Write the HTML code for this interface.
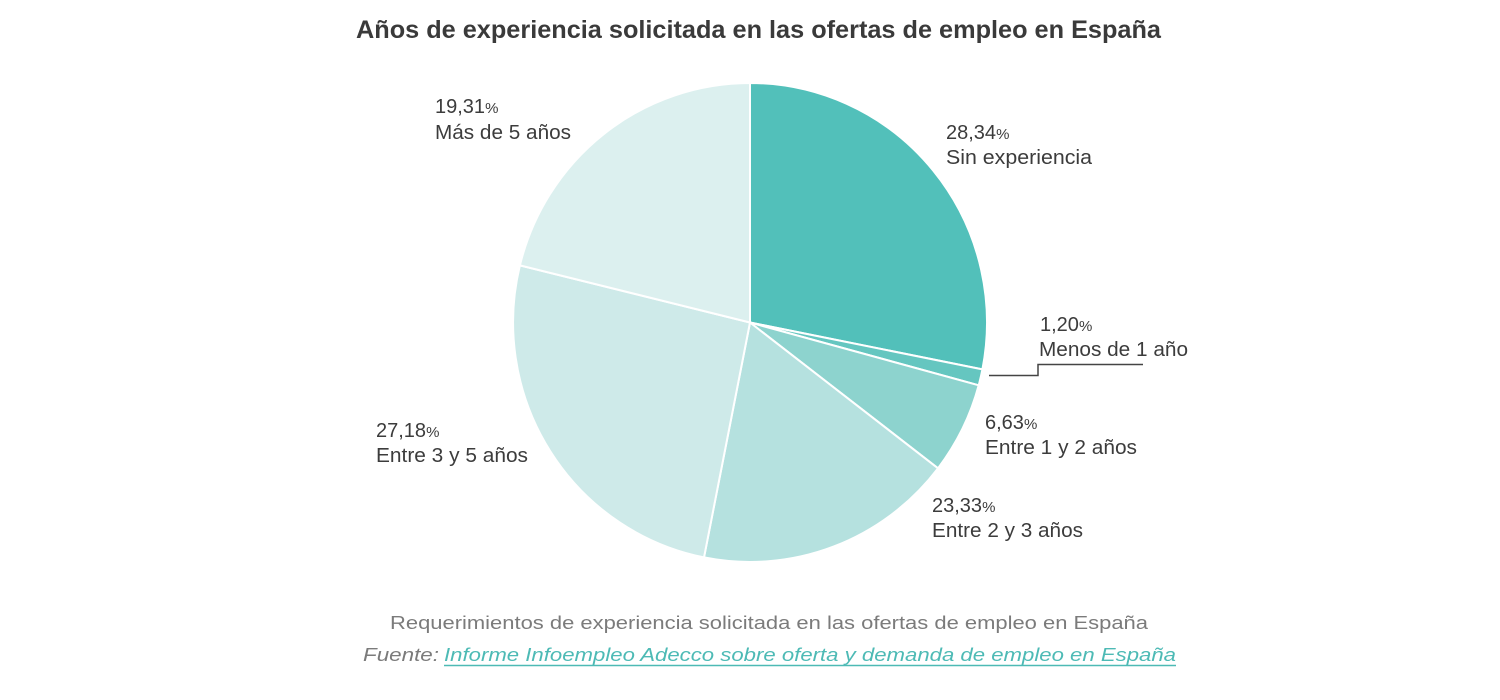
<!DOCTYPE html>
<html>
<head>
<meta charset="utf-8">
<style>
  html,body{margin:0;padding:0;background:#fff;}
  body{width:1500px;height:700px;overflow:hidden;}
  svg{display:block;}
  .lbl{font-family:"Liberation Sans",sans-serif;font-size:20px;fill:#3c3c3c;}
  .pct{font-size:15px;}
</style>
</head>
<body>
<svg width="1500" height="700" viewBox="0 0 1500 700" xmlns="http://www.w3.org/2000/svg">
  <rect width="1500" height="700" fill="#fff"/>
  <text x="356" y="38" font-family="Liberation Sans, sans-serif" font-size="25" font-weight="bold" fill="#3a3a3a" textLength="805" lengthAdjust="spacingAndGlyphs">Años de experiencia solicitada en las ofertas de empleo en España</text>

  <g stroke="#fff" stroke-width="2" stroke-linejoin="round">
    <path d="M750,322.5 L750,83 A237,239.5 0 0 1 982.4,369.4 Z" fill="#52C0BA"/>
    <path d="M750,322.5 L982.4,369.4 A237,239.5 0 0 1 978.7,385.3 Z" fill="#65C6C0"/>
    <path d="M750,322.5 L978.7,385.3 A237,239.5 0 0 1 938,468.3 Z" fill="#8DD3CE"/>
    <path d="M750,322.5 L938,468.3 A237,239.5 0 0 1 704,557.4 Z" fill="#B5E1DF"/>
    <path d="M750,322.5 L704,557.4 A237,239.5 0 0 1 519.9,265.4 Z" fill="#CEEAE9"/>
    <path d="M750,322.5 L519.9,265.4 A237,239.5 0 0 1 750,83 Z" fill="#DCF0EF"/>
  </g>

  <polyline points="989,375.5 1038,375.5 1038,364.5 1143,364.5" fill="none" stroke="#444" stroke-width="1.5"/>

  <text class="lbl" x="435" y="113">19,31<tspan class="pct">%</tspan></text>
  <text class="lbl" x="435" y="139" textLength="136" lengthAdjust="spacingAndGlyphs">Más de 5 años</text>

  <text class="lbl" x="946" y="139">28,34<tspan class="pct">%</tspan></text>
  <text class="lbl" x="946" y="164" textLength="146" lengthAdjust="spacingAndGlyphs">Sin experiencia</text>

  <text class="lbl" x="1040" y="331">1,20<tspan class="pct">%</tspan></text>
  <text class="lbl" x="1039" y="356" textLength="149" lengthAdjust="spacingAndGlyphs">Menos de 1 año</text>

  <text class="lbl" x="985" y="429">6,63<tspan class="pct">%</tspan></text>
  <text class="lbl" x="985" y="454" textLength="152" lengthAdjust="spacingAndGlyphs">Entre 1 y 2 años</text>

  <text class="lbl" x="932" y="512">23,33<tspan class="pct">%</tspan></text>
  <text class="lbl" x="932" y="537" textLength="151" lengthAdjust="spacingAndGlyphs">Entre 2 y 3 años</text>

  <text class="lbl" x="376" y="437">27,18<tspan class="pct">%</tspan></text>
  <text class="lbl" x="376" y="462" textLength="152" lengthAdjust="spacingAndGlyphs">Entre 3 y 5 años</text>

  <text x="390" y="629" font-family="Liberation Sans, sans-serif" font-size="18" fill="#7b7b7b" textLength="758" lengthAdjust="spacingAndGlyphs">Requerimientos de experiencia solicitada en las ofertas de empleo en España</text>
  <text x="363" y="661" font-family="Liberation Sans, sans-serif" font-size="18" font-style="italic" fill="#7b7b7b" textLength="76" lengthAdjust="spacingAndGlyphs">Fuente:</text>
  <text x="444" y="661" font-family="Liberation Sans, sans-serif" font-size="18" font-style="italic" fill="#4DBAB5" textLength="732" lengthAdjust="spacingAndGlyphs">Informe Infoempleo Adecco sobre oferta y demanda de empleo en España</text>
  <line x1="444" y1="665.5" x2="1176" y2="665.5" stroke="#4DBAB5" stroke-width="1.5"/>
</svg>
</body>
</html>
